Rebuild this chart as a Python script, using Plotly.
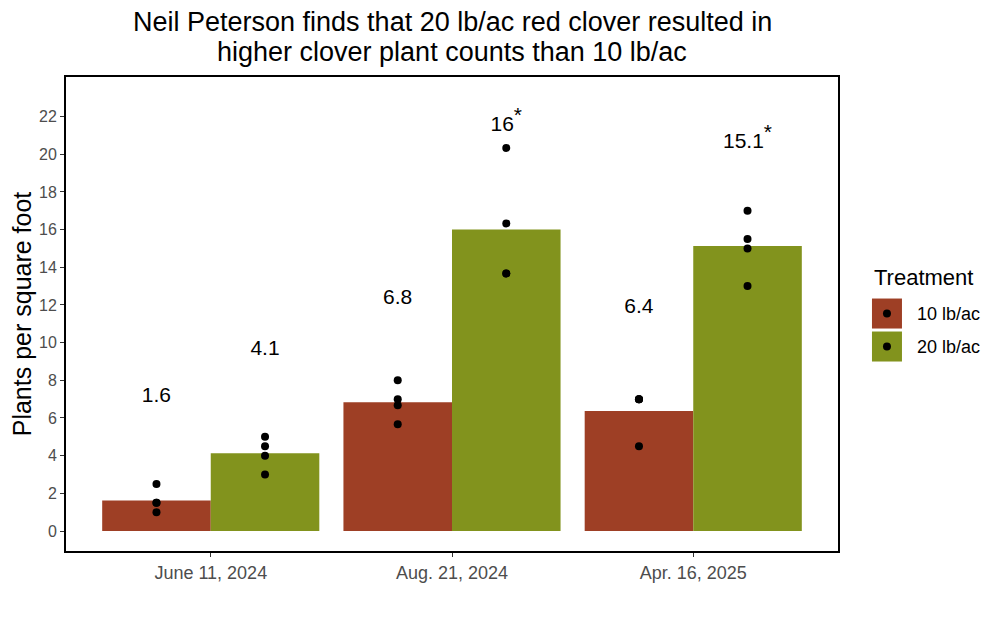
import numpy as np
import plotly.graph_objects as go

# sampling dates (x categories)
dates = ["June 11, 2024", "Aug. 21, 2024", "Apr. 16, 2025"]

# plant counts per square foot, one list of plots per date
pts_10 = [[2.5, 1.5, 1.0, 1.5], [8.0, 7.0, 6.67, 5.67], [7.0, 7.0, 7.0, 4.5]]
pts_20 = [[5.0, 4.5, 4.0, 3.0], [20.33, 16.33, 13.67, 13.67], [17.0, 15.5, 15.0, 13.0]]

# significance marks for each treatment
signif_10 = ["", "", ""]
signif_20 = ["", "*", "*"]

treatments = ["10 lb/ac", "20 lb/ac"]
colors = ["#9e3f25", "#82931d"]

y_ticks = list(range(0, 24, 2))

title_lines = [
    "Neil Peterson finds that 20 lb/ac red clover resulted in",
    "higher clover plant counts than 10 lb/ac",
]


def fmt(v):
    return "{:g}".format(round(v, 1))


# page has an 8px body margin, so the figure is 8px smaller than the window
layout = go.Layout(autosize=False, width=992, height=610)
fig = go.Figure(layout=layout)

for name, pts, sig, color in zip(treatments, [pts_10, pts_20], [signif_10, signif_20], colors):
    means = [float(np.mean(p)) for p in pts]
    fig.add_trace(
        go.Bar(
            x=dates,
            y=means,
            name=name,
            offsetgroup=name,
            marker=dict(color=color, line=dict(width=0)),
            showlegend=False,
        )
    )
    xs = [d for d, p in zip(dates, pts) for _ in p]
    ys = [v for p in pts for v in p]
    fig.add_trace(
        go.Scatter(
            x=xs,
            y=ys,
            mode="markers",
            offsetgroup=name,
            marker=dict(color="black", size=8),
            showlegend=False,
        )
    )
    # mean labels sit a fixed distance above the bar
    labels = []
    for m, s in zip(means, sig):
        lab = fmt(m)
        if s:
            lab += "<sup><span style='font-size:21px'>" + s + "</span></sup>"
        labels.append(lab)
    fig.add_trace(
        go.Scatter(
            x=dates,
            y=[m + 5.5 for m in means],
            mode="text",
            offsetgroup=name,
            text=labels,
            textposition="middle center",
            textfont=dict(size=21, color="black"),
            showlegend=False,
        )
    )

# hand-made legend with big keys and a dot, like the original
notes = []
shapes = []
lx = 1.044
ly0 = 0.501
step = 0.0696
notes.append(
    {
        "text": "Treatment",
        "x": lx,
        "y": 0.576,
        "xref": "paper",
        "yref": "paper",
        "xanchor": "left",
        "yanchor": "middle",
        "showarrow": False,
        "font": {"size": 22, "color": "black"},
    }
)
for i, (name, color) in enumerate(zip(treatments, colors)):
    cy = ly0 - i * step
    shapes.append(
        dict(
            type="rect", xref="paper", yref="paper",
            xsizemode="pixel", ysizemode="pixel", xanchor=lx, yanchor=cy,
            x0=0, x1=30, y0=-15, y1=15,
            fillcolor=color, line=dict(width=0),
        )
    )
    shapes.append(
        dict(
            type="circle", xref="paper", yref="paper",
            xsizemode="pixel", ysizemode="pixel", xanchor=lx, yanchor=cy,
            x0=11, x1=19, y0=-4, y1=4,
            fillcolor="black", line=dict(width=0),
        )
    )
    notes.append(
        {
            "text": name,
            "x": lx,
            "xshift": 43,
            "y": cy,
            "xref": "paper",
            "yref": "paper",
            "xanchor": "left",
            "yanchor": "middle",
            "showarrow": False,
            "font": {"size": 18, "color": "black"},
        }
    )

# two-line title, one note per line to get the tighter line spacing
for line, ty in zip(title_lines, [1.116, 1.0527]):
    notes.append(
        {
            "text": line,
            "x": 0.5,
            "y": ty,
            "xref": "paper",
            "yref": "paper",
            "xanchor": "center",
            "yanchor": "middle",
            "showarrow": False,
            "font": {"size": 27, "color": "black"},
        }
    )

fig.update_layout(
    barmode="group",
    scattermode="group",
    bargap=0.1,
    bargroupgap=0,
    plot_bgcolor="white",
    paper_bgcolor="white",
    font=dict(family="Liberation Sans, Arial, sans-serif", color="black"),
    margin=dict(l=58, r=162, t=69, b=67, autoexpand=False),
    annotations=notes,
    shapes=shapes,
    showlegend=False,
)

fig.update_xaxes(
    range=[-0.6, 2.6],
    showline=True,
    linecolor="black",
    linewidth=2,
    mirror=True,
    ticks="outside",
    ticklen=4,
    tickcolor="#333333",
    tickfont=dict(size=18, color="#4d4d4d"),
)
fig.update_yaxes(
    title_text="Plants per square foot",
    title_font=dict(size=25, color="black"),
    title_standoff=5,
    range=[-1.06, 24.1],
    tickvals=y_ticks,
    showgrid=False,
    zeroline=False,
    showline=True,
    linecolor="black",
    linewidth=2,
    mirror=True,
    ticks="outside",
    ticklen=4,
    tickcolor="#333333",
    tickfont=dict(size=16, color="#4d4d4d"),
)

fig.write_html("out.html")
